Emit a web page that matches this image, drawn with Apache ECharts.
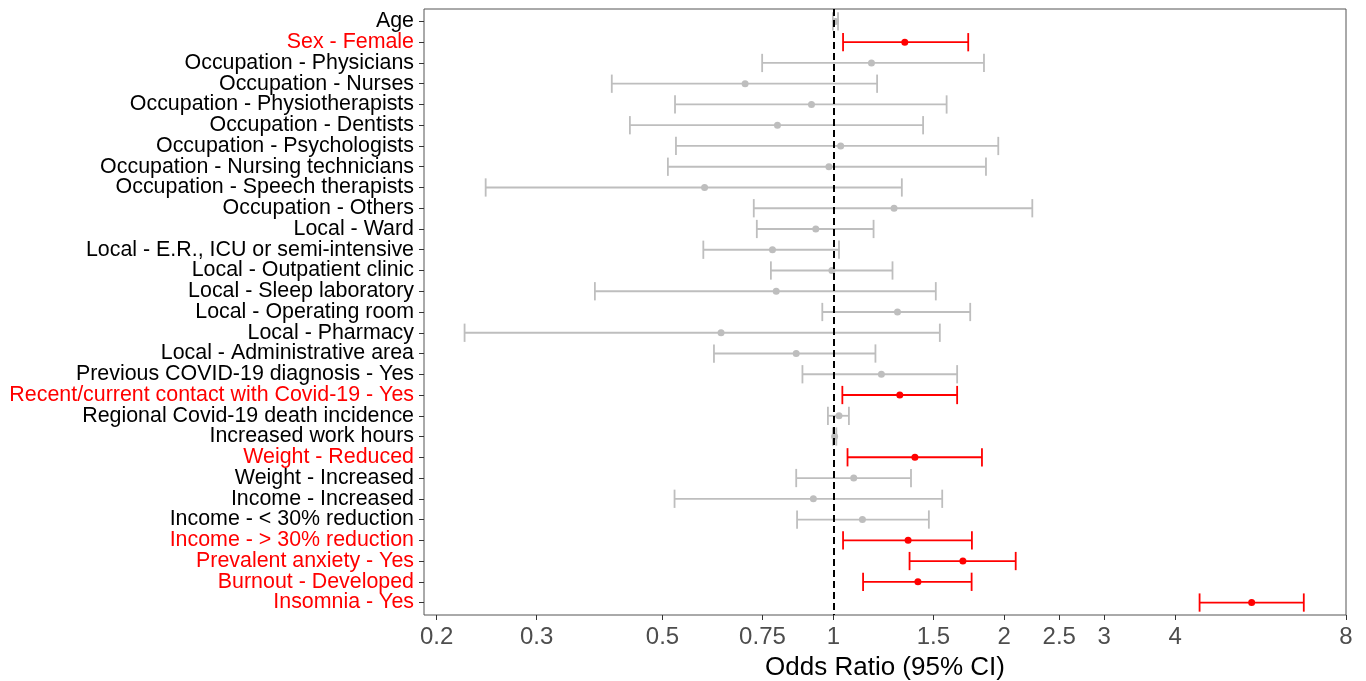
<!DOCTYPE html>
<html>
<head>
<meta charset="utf-8">
<script src="https://cdn.jsdelivr.net/npm/echarts@6/dist/echarts.min.js"></script>
<style>
  html, body { margin: 0; padding: 0; background: #fff; }
  #chart { width: 1366px; height: 681px; }
</style>
</head>
<body>
<div id="chart"></div>
<script>
const labels = [
  'Age', 'Sex - Female', 'Occupation - Physicians', 'Occupation - Nurses',
  'Occupation - Physiotherapists', 'Occupation - Dentists', 'Occupation - Psychologists',
  'Occupation - Nursing technicians', 'Occupation - Speech therapists', 'Occupation - Others',
  'Local - Ward', 'Local - E.R., ICU or semi-intensive', 'Local - Outpatient clinic',
  'Local - Sleep laboratory', 'Local - Operating room', 'Local - Pharmacy',
  'Local - Administrative area', 'Previous COVID-19 diagnosis - Yes',
  'Recent/current contact with Covid-19 - Yes', 'Regional Covid-19 death incidence',
  'Increased work hours', 'Weight - Reduced', 'Weight - Increased', 'Income - Increased',
  'Income - < 30% reduction', 'Income - > 30% reduction', 'Prevalent anxiety - Yes',
  'Burnout - Developed', 'Insomnia - Yes'
];
const oddsRatio = [1.008, 1.336, 1.167, 0.699, 0.915, 0.797, 1.030, 0.982, 0.593, 1.279,
  0.931, 0.781, 0.994, 0.793, 1.297, 0.634, 0.860, 1.215, 1.309, 1.023,
  1.005, 1.392, 1.086, 0.922, 1.125, 1.354, 1.691, 1.409, 5.456];
const ciLow = [0.998, 1.040, 0.749, 0.407, 0.526, 0.438, 0.528, 0.511, 0.244, 0.724,
  0.733, 0.590, 0.776, 0.380, 0.956, 0.224, 0.616, 0.882, 1.037, 0.978,
  0.998, 1.059, 0.860, 0.525, 0.863, 1.040, 1.362, 1.128, 4.417];
const ciHigh = [1.019, 1.728, 1.842, 1.194, 1.583, 1.439, 1.952, 1.857, 1.320, 2.241,
  1.177, 1.023, 1.271, 1.515, 1.742, 1.540, 1.186, 1.652, 1.652, 1.065,
  1.012, 1.827, 1.370, 1.555, 1.473, 1.754, 2.095, 1.752, 6.741];
// 1 = significant (drawn in red)
const significant = [0, 1, 0, 0, 0, 0, 0, 0, 0, 0, 0, 0, 0, 0, 0, 0, 0, 0, 1, 0,
  0, 1, 0, 0, 0, 1, 1, 1, 1];
const xTicks = [0.2, 0.3, 0.5, 0.75, 1, 1.5, 2, 2.5, 3, 4, 8];

const Y_MIN = -0.6;
const Y_MAX = labels.length - 1 + 0.6;
// the outer two entries are blank placeholders at the axis ends, so that
// the min/max label hiding only drops them and never a real row
const yTicks = [Y_MIN].concat(labels.map((l, i) => i), [Y_MAX]);
const FONT = "'Liberation Sans', Arial, sans-serif";
const RED = '#ff0000';
const GREY = '#bebebe';

const chart = echarts.init(document.getElementById('chart'));

const seriesData = labels.map((l, i) => [ciLow[i], oddsRatio[i], ciHigh[i], i, significant[i]]);

function renderItem(params, api) {
  const y = api.value(3);
  const lo = api.coord([api.value(0), y]);
  const mid = api.coord([api.value(1), y]);
  const hi = api.coord([api.value(2), y]);
  const h = api.size([0, 1])[1] * 0.44;
  const color = api.value(4) ? RED : GREY;
  const st = { stroke: color, lineWidth: 1.8 };
  return {
    type: 'group',
    children: [
      { type: 'line', shape: { x1: lo[0], y1: lo[1], x2: hi[0], y2: hi[1] }, style: st },
      { type: 'line', shape: { x1: lo[0], y1: lo[1] - h, x2: lo[0], y2: lo[1] + h }, style: st },
      { type: 'line', shape: { x1: hi[0], y1: hi[1] - h, x2: hi[0], y2: hi[1] + h }, style: st },
      { type: 'circle', shape: { cx: mid[0], cy: mid[1], r: 3.5 }, style: { fill: color } }
    ]
  };
}

const option = {
  animation: false,
  backgroundColor: '#fff',
  grid: {
    left: 424, right: 20, top: 9, bottom: 66,
    containLabel: false, outerBoundsMode: 'none',
    show: true, borderColor: '#555', borderWidth: 1, backgroundColor: 'transparent'
  },
  xAxis: {
    type: 'log',
    logBase: 10,
    min: 0.19,
    max: 8,
    axisLine: { show: false, onZero: false },
    splitLine: { show: false },
    axisTick: { show: true, length: 5, customValues: xTicks, lineStyle: { color: '#333', width: 1 } },
    axisLabel: {
      customValues: xTicks,
      fontFamily: FONT, fontSize: 24, color: '#4d4d4d', margin: 10,
      formatter: v => String(v)
    },
    name: 'Odds Ratio (95% CI)',
    nameLocation: 'middle',
    nameGap: 40,
    nameTextStyle: { fontFamily: FONT, fontSize: 26, color: '#000' }
  },
  yAxis: {
    type: 'value',
    inverse: true,
    min: Y_MIN,
    max: Y_MAX,
    axisLine: { show: false, onZero: false },
    splitLine: { show: false },
    axisTick: { show: true, length: 5, customValues: yTicks, lineStyle: { color: '#333', width: 1 } },
    axisLabel: {
      customValues: yTicks,
      showMinLabel: false,
      showMaxLabel: false,
      margin: 10,
      formatter: v => {
        if (labels[v] === undefined) return '';
        return (significant[v] ? '{r|' : '{k|') + labels[v] + '}';
      },
      rich: {
        r: { color: RED, fontFamily: FONT, fontSize: 21.4 },
        k: { color: '#000', fontFamily: FONT, fontSize: 21.4 }
      }
    }
  },
  series: [{
    type: 'custom',
    renderItem: renderItem,
    encode: { x: [0, 1, 2], y: 3 },
    data: seriesData,
    markLine: {
      silent: true,
      symbol: 'none',
      label: { show: false },
      lineStyle: { color: '#000', type: [7, 4], width: 2 },
      data: [{ xAxis: 1 }],
      z: 10
    }
  }]
};

chart.setOption(option);
</script>
</body>
</html>
